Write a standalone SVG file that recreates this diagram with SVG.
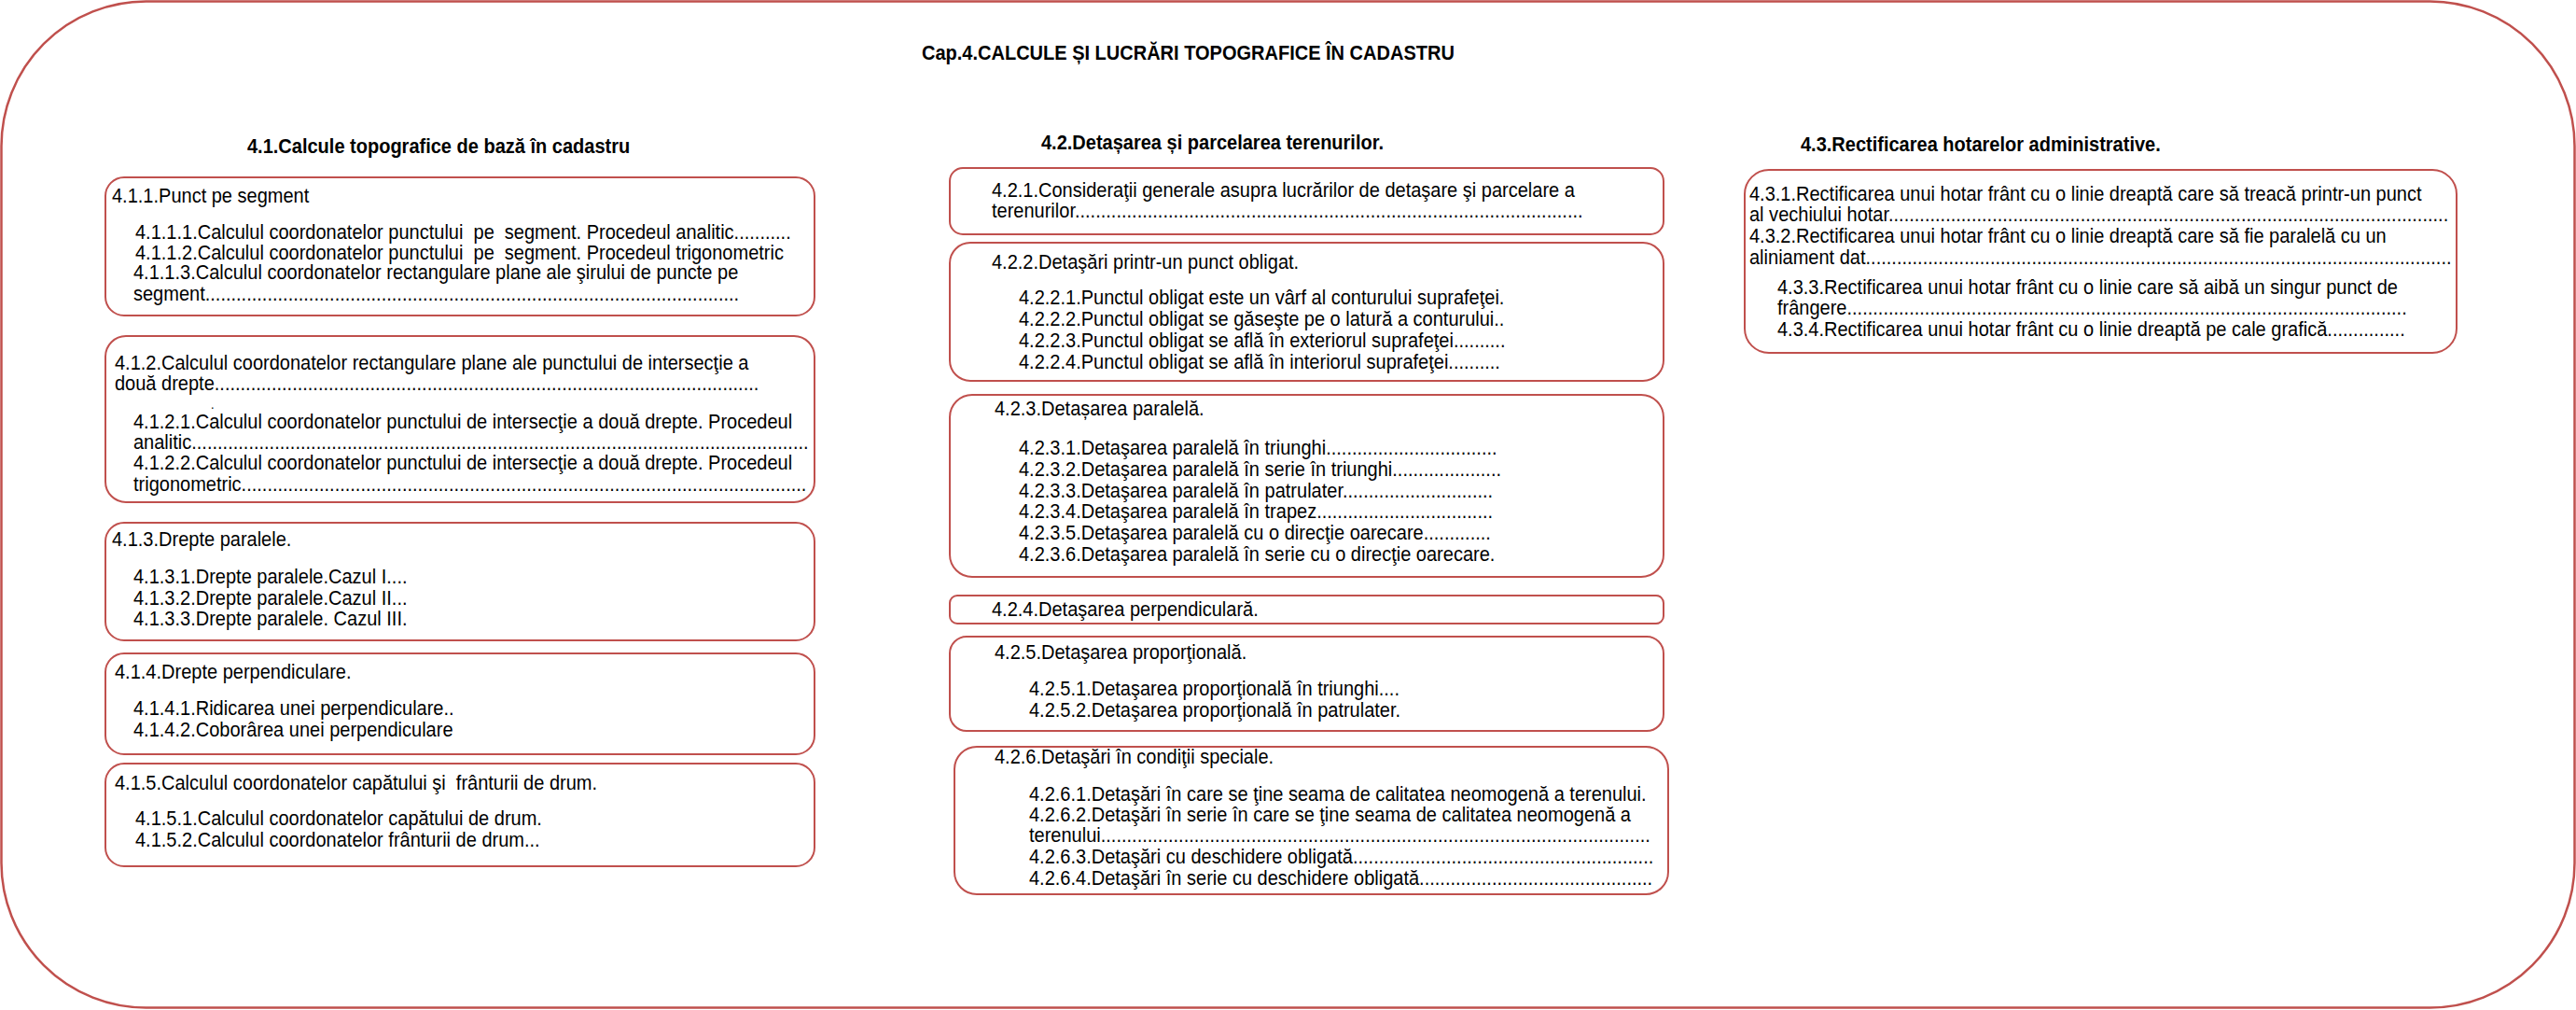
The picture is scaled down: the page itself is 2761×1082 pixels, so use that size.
<svg xmlns="http://www.w3.org/2000/svg" xml:space="preserve" width="2761" height="1082" viewBox="0 0 2761 1082">
<style>
.frame{fill:#ffffff;stroke:#C0504D;stroke-width:2.5}
.box{fill:#ffffff;stroke:#C0504D;stroke-width:2}
text{font-family:"Liberation Sans",Arial,sans-serif;font-size:22px;fill:#000000;white-space:pre;transform-box:fill-box;transform-origin:0% 50%;transform:scaleX(0.91)}
.h{font-weight:bold}
.dot{font-size:14px}
</style>
<rect class="frame" x="1.5" y="1.5" width="2758" height="1078" rx="155" ry="155"/>
<text class="h" x="988" y="64">Cap.4.CALCULE ȘI LUCRĂRI TOPOGRAFICE ÎN CADASTRU</text>
<text class="h" x="265" y="164">4.1.Calcule topografice de bază în cadastru</text>
<text class="h" x="1116" y="160">4.2.Detașarea și parcelarea terenurilor.</text>
<text class="h" x="1930" y="162">4.3.Rectificarea hotarelor administrative.</text>

<g id="n411">
<rect class="box" x="113" y="190" width="760" height="148" rx="20"/>
<text x="120" y="217">4.1.1.Punct pe segment</text>
<text x="145" y="256">4.1.1.1.Calculul coordonatelor punctului  pe  segment. Procedeul analitic...........</text>
<text x="145" y="278">4.1.1.2.Calculul coordonatelor punctului  pe  segment. Procedeul trigonometric</text>
<text x="143" y="299">4.1.1.3.Calculul coordonatelor rectangulare plane ale şirului de puncte pe</text>
<text x="143" y="322">segment.......................................................................................................</text>
</g>
<g id="n412">
<rect class="box" x="113" y="360" width="760" height="178" rx="22"/>
<text x="123" y="396">4.1.2.Calculul coordonatelor rectangulare plane ale punctului de intersecţie a</text>
<text x="123" y="418">două drepte.........................................................................................................</text>
<text class="dot" x="226" y="438">.</text>
<text x="143" y="459">4.1.2.1.Calculul coordonatelor punctului de intersecţie a două drepte. Procedeul</text>
<text x="143" y="481">analitic.......................................................................................................................</text>
<text x="143" y="503">4.1.2.2.Calculul coordonatelor punctului de intersecţie a două drepte. Procedeul</text>
<text x="143" y="526">trigonometric.............................................................................................................</text>
</g>
<g id="n413">
<rect class="box" x="113" y="560" width="760" height="126" rx="20"/>
<text x="120" y="585">4.1.3.Drepte paralele.</text>
<text x="143" y="625">4.1.3.1.Drepte paralele.Cazul I....</text>
<text x="143" y="648">4.1.3.2.Drepte paralele.Cazul II...</text>
<text x="143" y="670">4.1.3.3.Drepte paralele. Cazul III.</text>
</g>
<g id="n414">
<rect class="box" x="113" y="700" width="760" height="108" rx="20"/>
<text x="123" y="727">4.1.4.Drepte perpendiculare.</text>
<text x="143" y="766">4.1.4.1.Ridicarea unei perpendiculare..</text>
<text x="143" y="789">4.1.4.2.Coborârea unei perpendiculare</text>
</g>
<g id="n415">
<rect class="box" x="113" y="818" width="760" height="110" rx="20"/>
<text x="123" y="846">4.1.5.Calculul coordonatelor capătului şi  frânturii de drum.</text>
<text x="145" y="884">4.1.5.1.Calculul coordonatelor capătului de drum.</text>
<text x="145" y="907">4.1.5.2.Calculul coordonatelor frânturii de drum...</text>
</g>

<g id="n421">
<rect class="box" x="1018" y="180" width="765" height="71" rx="14"/>
<text x="1063" y="211">4.2.1.Consideraţii generale asupra lucrărilor de detaşare şi parcelare a</text>
<text x="1063" y="233">terenurilor..................................................................................................</text>
</g>
<g id="n422">
<rect class="box" x="1018" y="260" width="765" height="148" rx="22"/>
<text x="1063" y="288">4.2.2.Detaşări printr-un punct obligat.</text>
<text x="1092" y="326">4.2.2.1.Punctul obligat este un vârf al conturului suprafeţei.</text>
<text x="1092" y="349">4.2.2.2.Punctul obligat se găseşte pe o latură a conturului..</text>
<text x="1092" y="372">4.2.2.3.Punctul obligat se află în exteriorul suprafeţei..........</text>
<text x="1092" y="395">4.2.2.4.Punctul obligat se află în interiorul suprafeţei..........</text>
</g>
<g id="n423">
<rect class="box" x="1018" y="423" width="765" height="195" rx="24"/>
<text x="1066" y="445">4.2.3.Detașarea paralelă.</text>
<text x="1092" y="487">4.2.3.1.Detaşarea paralelă în triunghi.................................</text>
<text x="1092" y="510">4.2.3.2.Detaşarea paralelă în serie în triunghi.....................</text>
<text x="1092" y="533">4.2.3.3.Detaşarea paralelă în patrulater.............................</text>
<text x="1092" y="555">4.2.3.4.Detaşarea paralelă în trapez..................................</text>
<text x="1092" y="578">4.2.3.5.Detaşarea paralelă cu o direcţie oarecare.............</text>
<text x="1092" y="601">4.2.3.6.Detaşarea paralelă în serie cu o direcţie oarecare.</text>
</g>
<g id="n424">
<rect class="box" x="1018" y="638" width="765" height="30" rx="8"/>
<text x="1063" y="660">4.2.4.Detaşarea perpendiculară.</text>
</g>
<g id="n425">
<rect class="box" x="1018" y="682" width="765" height="101" rx="18"/>
<text x="1066" y="706">4.2.5.Detaşarea proporţională.</text>
<text x="1103" y="745">4.2.5.1.Detaşarea proporţională în triunghi....</text>
<text x="1103" y="768">4.2.5.2.Detaşarea proporţională în patrulater.</text>
</g>
<g id="n426">
<rect class="box" x="1023" y="800" width="765" height="158" rx="24"/>
<text x="1066" y="818">4.2.6.Detaşări în condiţii speciale.</text>
<text x="1103" y="858">4.2.6.1.Detaşări în care se ţine seama de calitatea neomogenă a terenului.</text>
<text x="1103" y="880">4.2.6.2.Detaşări în serie în care se ţine seama de calitatea neomogenă a</text>
<text x="1103" y="902">terenului..........................................................................................................</text>
<text x="1103" y="925">4.2.6.3.Detaşări cu deschidere obligată..........................................................</text>
<text x="1103" y="948">4.2.6.4.Detaşări în serie cu deschidere obligată.............................................</text>
</g>

<g id="n43">
<rect class="box" x="1870" y="182" width="763" height="196" rx="26"/>
<text x="1875" y="215">4.3.1.Rectificarea unui hotar frânt cu o linie dreaptă care să treacă printr-un punct</text>
<text x="1875" y="237">al vechiului hotar............................................................................................................</text>
<text x="1875" y="260">4.3.2.Rectificarea unui hotar frânt cu o linie dreaptă care să fie paralelă cu un</text>
<text x="1875" y="283">aliniament dat.................................................................................................................</text>
<text x="1905" y="315">4.3.3.Rectificarea unui hotar frânt cu o linie care să aibă un singur punct de</text>
<text x="1905" y="337">frângere............................................................................................................</text>
<text x="1905" y="360">4.3.4.Rectificarea unui hotar frânt cu o linie dreaptă pe cale grafică...............</text>
</g>
<g id="connectors"></g>
</svg>
